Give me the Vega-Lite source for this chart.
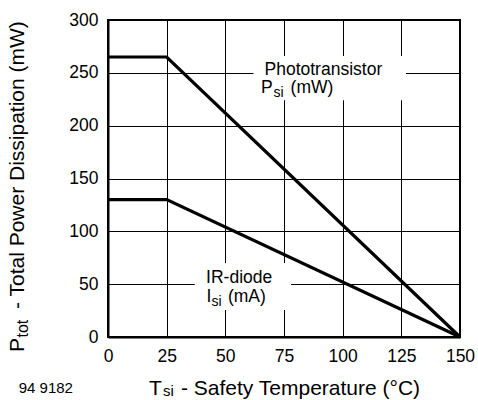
{
  "$schema": "https://vega.github.io/schema/vega-lite/v6.json",
  "width": 352,
  "height": 317,
  "autosize": {"type": "none"},
  "padding": {"left": 108, "top": 20, "right": 18, "bottom": 63},
  "background": "white",
  "config": {
    "font": "Liberation Sans",
    "view": {"stroke": "black", "strokeWidth": 2},
    "axis": {
      "domainColor": "black",
      "domainWidth": 2,
      "gridColor": "black",
      "gridWidth": 1,
      "gridOpacity": 1,
      "ticks": false,
      "labelColor": "black",
      "labelFontSize": 17.5,
      "labelFont": "Liberation Sans",
      "labelPadding": 10
    }
  },
  "datasets": {
    "curves": [
      {"series": "Phototransistor", "T": 0, "P": 265},
      {"series": "Phototransistor", "T": 25, "P": 265},
      {"series": "Phototransistor", "T": 150, "P": 0},
      {"series": "IR-diode", "T": 0, "P": 130},
      {"series": "IR-diode", "T": 25, "P": 130},
      {"series": "IR-diode", "T": 150, "P": 0}
    ],
    "boxes": [
      {"x1": 62, "x2": 127, "y1": 224, "y2": 266},
      {"x1": 37, "x2": 78, "y1": 25.6, "y2": 70}
    ],
    "annot": [
      {"T": 66.7, "P": 248, "text": "Phototransistor"},
      {"T": 65.2, "P": 230.9, "text": "P"},
      {"T": 77.8, "P": 230.9, "text": "(mW)"},
      {"T": 41.8, "P": 51.2, "text": "IR-diode"},
      {"T": 42.0, "P": 33.2, "text": "I"},
      {"T": 51.1, "P": 33.2, "text": "(mA)"}
    ],
    "annotSub": [
      {"T": 70.5, "P": 226.7, "text": "si"},
      {"T": 44.1, "P": 29.0, "text": "si"}
    ],
    "xTitle": [
      {"T": 17.47, "P": -54.6, "text": "T"},
      {"T": 31.1, "P": -54.6, "text": "- Safety Temperature (°C)"}
    ],
    "xTitleSub": [
      {"T": 23.44, "P": -56.2, "text": "si"}
    ],
    "yTitle": [
      {"T": -35.8, "P": -14.2, "text": "P"},
      {"T": -35.8, "P": 26.5, "text": "- Total Power Dissipation (mW)"}
    ],
    "yTitleSub": [
      {"T": -33.9, "P": -0.47, "text": "tot"}
    ],
    "code": [
      {"T": -26.5, "P": -48, "text": "94 9182"}
    ]
  },
  "layer": [
    {
      "data": {"name": "boxes"},
      "mark": {"type": "rect", "fill": "white", "stroke": null},
      "encoding": {
        "x": {"field": "x1", "type": "quantitative"},
        "x2": {"field": "x2"},
        "y": {"field": "y1", "type": "quantitative"},
        "y2": {"field": "y2"}
      }
    },
    {
      "data": {"name": "curves"},
      "mark": {"type": "line", "color": "black", "strokeWidth": 3.2, "clip": false},
      "encoding": {
        "x": {
          "field": "T",
          "type": "quantitative",
          "scale": {"domain": [0, 150], "nice": false},
          "axis": {"values": [0, 25, 50, 75, 100, 125, 150], "title": null, "labelFlush": false}
        },
        "y": {
          "field": "P",
          "type": "quantitative",
          "scale": {"domain": [0, 300], "nice": false},
          "axis": {"values": [0, 50, 100, 150, 200, 250, 300], "title": null}
        },
        "detail": {"field": "series"}
      }
    },
    {
      "data": {"name": "annot"},
      "mark": {"type": "text", "align": "left", "baseline": "alphabetic", "fontSize": 17.5, "font": "Liberation Sans", "color": "black"},
      "encoding": {
        "x": {"field": "T", "type": "quantitative"},
        "y": {"field": "P", "type": "quantitative"},
        "text": {"field": "text"}
      }
    },
    {
      "data": {"name": "annotSub"},
      "mark": {"type": "text", "align": "left", "baseline": "alphabetic", "fontSize": 14, "font": "Liberation Sans", "color": "black"},
      "encoding": {
        "x": {"field": "T", "type": "quantitative"},
        "y": {"field": "P", "type": "quantitative"},
        "text": {"field": "text"}
      }
    },
    {
      "data": {"name": "xTitle"},
      "mark": {"type": "text", "align": "left", "baseline": "alphabetic", "fontSize": 21, "font": "Liberation Sans", "color": "black", "clip": false},
      "encoding": {
        "x": {"field": "T", "type": "quantitative"},
        "y": {"field": "P", "type": "quantitative"},
        "text": {"field": "text"}
      }
    },
    {
      "data": {"name": "xTitleSub"},
      "mark": {"type": "text", "align": "left", "baseline": "alphabetic", "fontSize": 15, "font": "Liberation Sans", "color": "black", "clip": false},
      "encoding": {
        "x": {"field": "T", "type": "quantitative"},
        "y": {"field": "P", "type": "quantitative"},
        "text": {"field": "text"}
      }
    },
    {
      "data": {"name": "yTitle"},
      "mark": {"type": "text", "align": "left", "baseline": "alphabetic", "angle": 270, "fontSize": 21, "font": "Liberation Sans", "color": "black", "clip": false},
      "encoding": {
        "x": {"field": "T", "type": "quantitative"},
        "y": {"field": "P", "type": "quantitative"},
        "text": {"field": "text"}
      }
    },
    {
      "data": {"name": "yTitleSub"},
      "mark": {"type": "text", "align": "left", "baseline": "alphabetic", "angle": 270, "fontSize": 16, "font": "Liberation Sans", "color": "black", "clip": false},
      "encoding": {
        "x": {"field": "T", "type": "quantitative"},
        "y": {"field": "P", "type": "quantitative"},
        "text": {"field": "text"}
      }
    },
    {
      "data": {"name": "code"},
      "mark": {"type": "text", "align": "center", "baseline": "middle", "fontSize": 15, "font": "Liberation Sans", "color": "black", "clip": false},
      "encoding": {
        "x": {"field": "T", "type": "quantitative"},
        "y": {"field": "P", "type": "quantitative"},
        "text": {"field": "text"}
      }
    }
  ]
}
